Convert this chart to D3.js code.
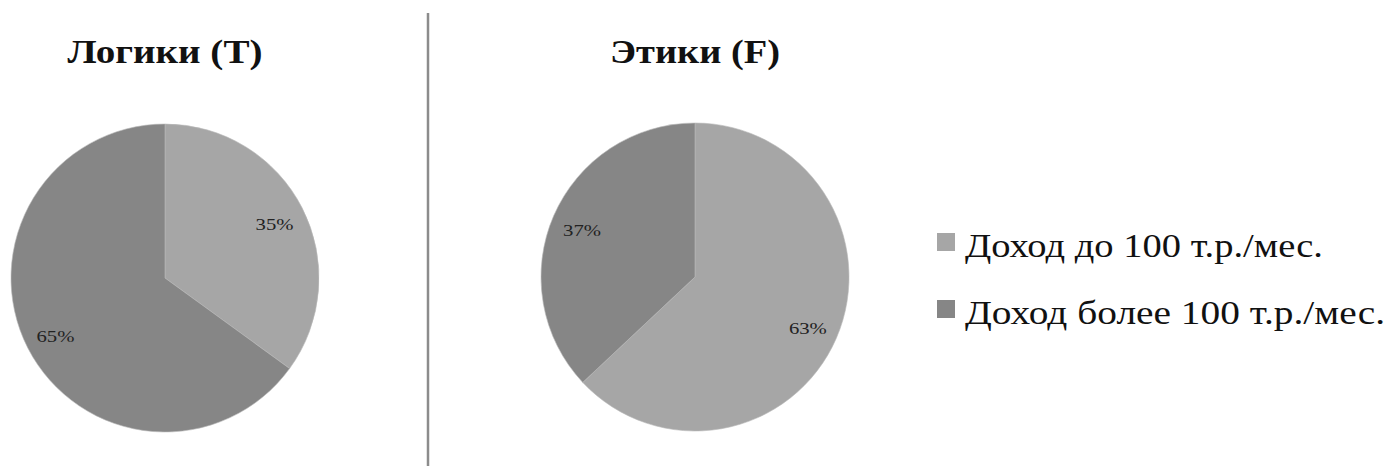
<!DOCTYPE html>
<html>
<head>
<meta charset="utf-8">
<script src="https://cdn.jsdelivr.net/npm/d3@7"></script>
<style>
  html, body { margin: 0; padding: 0; background: #fff; }
  svg { display: block; }
</style>
</head>
<body>
<svg id="chart" width="1390" height="466"></svg>
<script>
// ---- data ----
const categories = ["Доход до 100 т.р./мес.", "Доход более 100 т.р./мес."];
const chartTitles = ["Логики (T)", "Этики (F)"];
const logicValues = [35, 65];
const ethicsValues = [63, 37];
const seriesValues = [logicValues, ethicsValues];

// ---- layout / style ----
const colors = d3.scaleOrdinal().domain(categories).range(["#a6a6a6", "#868686"]);
const svg = d3.select("#chart");
const serif = "'Liberation Serif', 'Times New Roman', serif";
const pieCenters = [{x: 165, y: 278}, {x: 695, y: 277}];
const titleWidths = [195, 170];
const legendWidths = [358, 420];
const radius = 154;
const labelRadius = 123;

const pie = d3.pie().sort(null).value(d => d.value);
const arc = d3.arc().innerRadius(0).outerRadius(radius);
const labelArc = d3.arc().innerRadius(labelRadius).outerRadius(labelRadius);

seriesValues.forEach((vals, i) => {
  const data = vals.map((v, j) => ({cat: categories[j], value: v}));
  const g = svg.append("g").attr("transform", `translate(${pieCenters[i].x},${pieCenters[i].y})`);
  const arcs = pie(data);
  g.selectAll("path").data(arcs).join("path")
    .attr("d", arc)
    .attr("fill", d => colors(d.data.cat))
    .attr("stroke", "#b8b8b8")
    .attr("stroke-width", 0.6);
  g.selectAll("text").data(arcs).join("text")
    .attr("transform", d => { const c = labelArc.centroid(d); return `translate(${c[0]},${c[1] + 2})`; })
    .attr("text-anchor", "middle")
    .attr("dy", "0.35em")
    .attr("textLength", 38)
    .attr("lengthAdjust", "spacingAndGlyphs")
    .style("font-family", serif)
    .style("font-size", "17px")
    .attr("fill", "#222")
    .text(d => d.data.value + "%");
  svg.append("text")
    .attr("x", pieCenters[i].x)
    .attr("y", 63)
    .attr("text-anchor", "middle")
    .attr("textLength", titleWidths[i])
    .attr("lengthAdjust", "spacingAndGlyphs")
    .style("font-family", serif)
    .style("font-weight", "bold")
    .style("font-size", "34px")
    .attr("fill", "#111")
    .text(chartTitles[i]);
});

// divider
svg.append("line")
  .attr("x1", 428).attr("x2", 428)
  .attr("y1", 13).attr("y2", 466)
  .attr("stroke", "#8c8c8c").attr("stroke-width", 2.5);

// legend
const legend = svg.append("g").attr("transform", "translate(937,233)");
const item = legend.selectAll("g").data(categories).join("g")
  .attr("transform", (d, i) => `translate(0,${i * 67})`);
item.append("rect").attr("width", 18).attr("height", 18).attr("fill", d => colors(d));
item.append("text")
  .attr("x", 28).attr("y", 24)
  .attr("textLength", (d, i) => legendWidths[i])
  .attr("lengthAdjust", "spacingAndGlyphs")
  .style("font-family", serif)
  .style("font-size", "34px")
  .attr("fill", "#111")
  .text(d => d);
</script>
</body>
</html>
